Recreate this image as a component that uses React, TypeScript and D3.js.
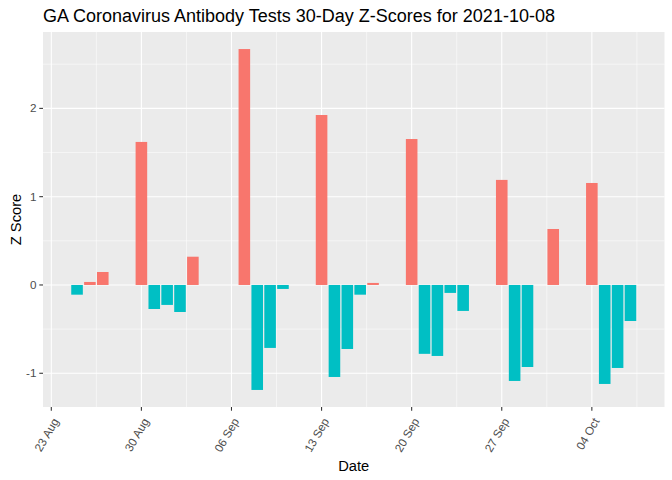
import React from 'react'
import * as d3 from 'd3'

// daily z-scores, weekdays only
const dates = [
  '2021-08-25', '2021-08-26', '2021-08-27',
  '2021-08-30', '2021-08-31', '2021-09-01', '2021-09-02', '2021-09-03',
  '2021-09-07', '2021-09-08', '2021-09-09', '2021-09-10',
  '2021-09-13', '2021-09-14', '2021-09-15', '2021-09-16', '2021-09-17',
  '2021-09-20', '2021-09-21', '2021-09-22', '2021-09-23', '2021-09-24',
  '2021-09-27', '2021-09-28', '2021-09-29', '2021-10-01',
  '2021-10-04', '2021-10-05', '2021-10-06', '2021-10-07',
]
const zScores = [
  -0.11, 0.034, 0.147,
  1.62, -0.272, -0.226, -0.306, 0.32,
  2.672, -1.189, -0.713, -0.045,
  1.925, -1.042, -0.725, -0.11, 0.023,
  1.653, -0.78, -0.804, -0.09, -0.294,
  1.19, -1.087, -0.929, 0.634,
  1.155, -1.121, -0.94, -0.408,
]
const xTicks = ['2021-08-23', '2021-08-30', '2021-09-06', '2021-09-13', '2021-09-20', '2021-09-27', '2021-10-04']
const yTicks = [-1, 0, 1, 2]
const yMinor = [-0.5, 0.5, 1.5, 2.5]

const title = 'GA Coronavirus Antibody Tests 30-Day Z-Scores for 2021-10-08'

const W = 672
const H = 480
const left = 43
const right = 664.5
const top = 32
const bottom = 407
const DAY = 86400000
const font = '"Liberation Sans", Arial, sans-serif'

const parse = d3.utcParse('%Y-%m-%d')
const fmt = d3.utcFormat('%d %b')

export default function App() {
  const data = dates.map((d, i) => ({ date: parse(d)!, z: zScores[i] }))

  // ggplot-like 5% expansion on both axes
  const t0 = +d3.min(data, d => d.date)! - 0.45 * DAY
  const t1 = +d3.max(data, d => d.date)! + 0.45 * DAY
  const tPad = (t1 - t0) * 0.05
  const x = d3.scaleUtc().domain([new Date(t0 - tPad), new Date(t1 + tPad)]).range([left, right])

  const zMin = Math.min(0, d3.min(zScores)!)
  const zMax = Math.max(0, d3.max(zScores)!)
  const zPad = (zMax - zMin) * 0.05
  const y = d3.scaleLinear().domain([zMin - zPad, zMax + zPad]).range([bottom, top])

  const majorX = xTicks.map(d => parse(d)!)
  const minorX = [-1, ...majorX.map((_, i) => i)].map(i => new Date(+majorX[0] + (i * 7 + 3.5) * DAY))
    .filter(d => x(d) > left && x(d) < right)

  const barW = x(new Date(+majorX[0] + 0.9 * DAY)) - x(majorX[0])

  return (
    <svg width={W} height={H} style={{ position: 'absolute', left: 0, top: 0, background: '#fff' }}>
      <rect x={left} y={top} width={right - left} height={bottom - top} fill="#EBEBEB" />
      {yMinor.filter(v => y(v) > top && y(v) < bottom).map(v => (
        <line key={'ym' + v} x1={left} x2={right} y1={y(v)} y2={y(v)} stroke="#fff" strokeWidth={0.53} />
      ))}
      {minorX.map((d, i) => (
        <line key={'xm' + i} x1={x(d)} x2={x(d)} y1={top} y2={bottom} stroke="#fff" strokeWidth={0.53} />
      ))}
      {yTicks.map(v => (
        <line key={'y' + v} x1={left} x2={right} y1={y(v)} y2={y(v)} stroke="#fff" strokeWidth={1.07} />
      ))}
      {majorX.map((d, i) => (
        <line key={'x' + i} x1={x(d)} x2={x(d)} y1={top} y2={bottom} stroke="#fff" strokeWidth={1.07} />
      ))}
      {data.map((d, i) => (
        <rect
          key={i}
          x={x(d.date) - barW / 2}
          width={barW}
          y={Math.min(y(d.z), y(0))}
          height={Math.abs(y(d.z) - y(0))}
          fill={d.z >= 0 ? '#F8766D' : '#00BFC4'}
        />
      ))}
      {yTicks.map(v => (
        <g key={'yt' + v}>
          <line x1={left - 3.7} x2={left} y1={y(v)} y2={y(v)} stroke="#333333" strokeWidth={1.07} />
          <text x={left - 6.5} y={y(v)} dy="0.35em" textAnchor="end" fontSize={11.7} fill="#4D4D4D" fontFamily={font}>
            {v}
          </text>
        </g>
      ))}
      {majorX.map((d, i) => (
        <g key={'xt' + i}>
          <line x1={x(d)} x2={x(d)} y1={bottom} y2={bottom + 3.7} stroke="#333333" strokeWidth={1.07} />
          <text
            transform={`translate(${x(d) + 8},${bottom + 14}) rotate(-60)`}
            textAnchor="end"
            fontSize={11.7}
            fill="#4D4D4D"
            fontFamily={font}
          >
            {fmt(d)}
          </text>
        </g>
      ))}
      <text x={(left + right) / 2} y={471} textAnchor="middle" fontSize={14.7} fontFamily={font} fill="#000">
        Date
      </text>
      <text
        transform={`translate(20.5,${(top + bottom) / 2}) rotate(-90)`}
        textAnchor="middle"
        fontSize={14.7}
        fontFamily={font}
        fill="#000"
      >
        Z Score
      </text>
      <text x={left} y={22} fontSize={18} fontFamily={font} fill="#000">
        {title}
      </text>
    </svg>
  )
}
